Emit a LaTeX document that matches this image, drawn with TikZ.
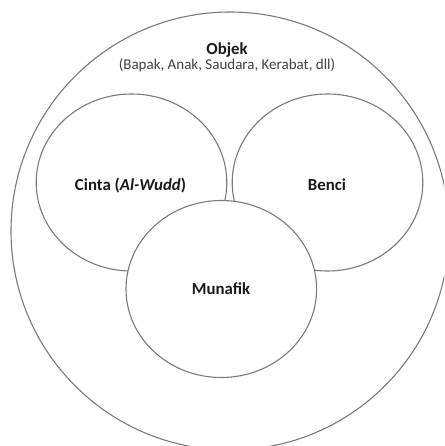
\documentclass[tikz,border=0pt]{standalone}
\usepackage{fontspec}
\setmainfont{Carlito}
\usetikzlibrary{shapes.geometric}
\definecolor{linegrey}{HTML}{7A7A7A}
\definecolor{textdark}{HTML}{1A1A1A}
\definecolor{textgrey}{HTML}{404040}
\tikzset{
  ring/.style={draw=linegrey, line width=1.1pt, fill=white, ellipse, inner sep=0pt,
               minimum width=190.6pt, minimum height=177pt},
  boldlabel/.style={anchor=base, text=textdark, font=\fontsize{16.8}{18}\selectfont\bfseries, inner sep=0pt},
  sublabel/.style={anchor=base, text=textgrey, font=\fontsize{15}{17}\selectfont, inner sep=0pt}
}
\begin{document}
\begin{tikzpicture}[x=1pt,y=-1pt]
\useasboundingbox (0,0) rectangle (444,446);
\clip (0,0) rectangle (444,446);
\fill[white] (0,0) rectangle (444,446);
\node[draw=linegrey, line width=1.1pt, circle, inner sep=0pt, minimum size=438pt] (objek) at (230,231) {};
\node[ring] (cinta) at (131.5,182.5) {};
\node[ring] (benci) at (327.5,182.5) {};
\node[ring] (munafik) at (221.3,289) {};
\node[boldlabel] (objektxt) at (227,55) {Objek};
\node[sublabel] (objeksub) at (227,70) {(Bapak, Anak, Saudara, Kerabat, dll)};
\node[boldlabel] (cintatxt) at (130.5,190) {Cinta (\textit{Al-Wudd})};
\node[boldlabel] (bencitxt) at (327,190) {Benci};
\node[boldlabel] (munafiktxt) at (221,294) {Munafik};
\end{tikzpicture}
\end{document}
